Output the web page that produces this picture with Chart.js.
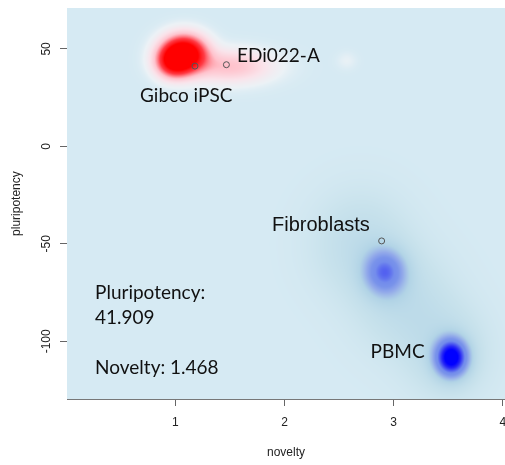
<!DOCTYPE html>
<html>
<head>
<meta charset="utf-8">
<script src="https://cdn.jsdelivr.net/npm/chart.js@4"></script>
<style>
  html, body { margin: 0; padding: 0; background: #fff; overflow: hidden; }
  #wrap { width: 540px; height: 465px; }
</style>
</head>
<body>
<div id="wrap"><canvas id="chart" width="540" height="465"></canvas></div>
<script>

// samples placed on the map
const sampleNames = ["Gibco iPSC", "EDi022-A", "Fibroblasts"];
const sampleNovelty = [1.18, 1.468, 2.89];
const samplePluripotency = [41.2, 41.909, -48.5];

// reference density, as a few gaussian components (data units)
const densityGroup = ["red", "red", "red", "red", "blue", "blue", "blue", "blue", "blue"];
const densityNovelty = [1.08, 0.98, 1.5, 2.57, 2.92, 2.7, 3.1, 3.53, 3.5];
const densityPluripotency = [47.5, 43, 41, 44, -64.5, -50, -80, -108.3, -106];
const densitySpreadX = [0.13, 0.1, 0.25, 0.06, 0.13, 0.3, 0.3, 0.1, 0.25];
const densitySpreadY = [6, 5, 5.5, 3, 8, 18, 18, 6.5, 16];
const densityWeight = [1, 0.5, 0.22, 0.025, 0.55, 0.14, 0.14, 1, 0.15];

const xTicks = [1, 2, 3, 4];
const yTicks = [-100, -50, 0, 50];

// annotations (text baseline anchored at data coords)
const noteTexts = ["EDi022-A", "Gibco iPSC", "Fibroblasts", "PBMC", "Pluripotency:", "41.909", "Novelty: 1.468"];
const noteNovelty = [1.565, 0.677, 1.886, 2.789, 0.265, 0.265, 0.265];
const notePluripotency = [43.4, 23.0, -43.2, -108.7, -78.1, -91.3, -116.8];


const bg = [214, 234, 243];
const redStops = [
  [0, bg], [0.03, [236, 242, 246]], [0.1, [250, 228, 235]], [0.22, [255, 195, 205]],
  [0.45, [255, 60, 70]], [0.7, [255, 0, 0]], [10, [255, 0, 0]]
];
const blueStops = [
  [0, bg], [0.08, [200, 226, 236]], [0.25, [178, 212, 230]], [0.4, [145, 168, 234]],
  [0.5, [122, 148, 234]], [0.6, [115, 140, 236]], [0.85, [40, 40, 245]], [1, [0, 0, 255]], [10, [0, 0, 255]]
];

function ramp(stops, t) {
  for (let i = 1; i < stops.length; i++) {
    if (t <= stops[i][0]) {
      const [t0, c0] = stops[i - 1];
      const [t1, c1] = stops[i];
      const f = (t - t0) / (t1 - t0);
      return [0, 1, 2].map(k => c0[k] + (c1[k] - c0[k]) * f);
    }
  }
  return stops[stops.length - 1][1];
}

const densityPlugin = {
  id: "density",
  beforeDatasetsDraw(chart) {
    const { ctx, chartArea: a, scales: { x, y } } = chart;
    const w = Math.round(a.right - a.left);
    const h = Math.round(a.bottom - a.top);
    const off = document.createElement("canvas");
    off.width = w;
    off.height = h;
    const octx = off.getContext("2d");
    const img = octx.createImageData(w, h);

    for (let j = 0; j < h; j++) {
      const vy = y.getValueForPixel(a.top + j + 0.5);
      for (let i = 0; i < w; i++) {
        const vx = x.getValueForPixel(a.left + i + 0.5);
        let r = 0, b = 0;
        for (let k = 0; k < densityWeight.length; k++) {
          const dx = (vx - densityNovelty[k]) / densitySpreadX[k];
          const dy = (vy - densityPluripotency[k]) / densitySpreadY[k];
          const d = densityWeight[k] * Math.exp(-0.5 * (dx * dx + dy * dy));
          if (densityGroup[k] === "red") r += d; else b += d;
        }
        const c = r > b ? ramp(redStops, r) : ramp(blueStops, b);
        const p = (j * w + i) * 4;
        img.data[p] = c[0];
        img.data[p + 1] = c[1];
        img.data[p + 2] = c[2];
        img.data[p + 3] = 255;
      }
    }
    octx.putImageData(img, 0, 0);
    ctx.drawImage(off, a.left, a.top);
  }
};

const notePlugin = {
  id: "notes",
  afterDatasetsDraw(chart) {
    const { ctx, scales: { x, y } } = chart;
    ctx.save();
    ctx.fillStyle = "#111";
    ctx.textBaseline = "alphabetic";
    ctx.textAlign = "left";
    noteTexts.forEach((t, i) => {
      // the Fibroblasts label was set in a different face
      ctx.font = t === "Fibroblasts" ? "20px 'Liberation Sans'" : "19px Lato";
      ctx.fillText(t, x.getPixelForValue(noteNovelty[i]), y.getPixelForValue(notePluripotency[i]));
    });
    ctx.restore();
  }
};


const axisFont = { family: "'Liberation Sans', Arial", size: 12 };

new Chart(document.getElementById("chart").getContext("2d"), {
  type: "scatter",
  data: {
    datasets: [{
      label: "samples",
      data: sampleNovelty.map((v, i) => ({ x: v, y: samplePluripotency[i] })),
      pointRadius: 3,
      pointBackgroundColor: "rgba(0,0,0,0)",
      pointBorderColor: "#555",
      pointBorderWidth: 1
    }]
  },
  options: {
    responsive: false,
    animation: false,
    // right side runs past the 505px window, like the cropped original
    layout: { padding: { top: 5.8, left: 0, right: 35, bottom: 0 } },
    plugins: {
      legend: { display: false },
      tooltip: { enabled: false }
    },
    scales: {
      x: {
        type: "linear",
        min: 0.008,
        max: 4.02,
        afterBuildTicks: s => { s.ticks = xTicks.map(v => ({ value: v })); },
        afterFit: s => { s.height = 66; },
        grid: { drawOnChartArea: false, color: "#666", tickLength: 7 },
        border: { color: "#777" },
        ticks: { color: "#222", font: axisFont, padding: 9 },
        title: { display: true, text: "novelty", color: "#222", font: axisFont, padding: { top: 0, bottom: 5 } }
      },
      y: {
        type: "linear",
        min: -129.6,
        max: 70.9,
        afterBuildTicks: s => { s.ticks = yTicks.map(v => ({ value: v })); },
        afterFit: s => { s.width = 67; },
        grid: { drawOnChartArea: false, color: "#666", tickLength: 7 },
        border: { color: "#777" },
        ticks: { color: "#222", font: axisFont, minRotation: 90, maxRotation: 90, crossAlign: "center", padding: 1 },
        title: { display: true, text: "pluripotency", color: "#222", font: axisFont, padding: { top: 9, bottom: 0 } }
      }
    }
  },
  plugins: [densityPlugin, notePlugin]
});
</script>
</body>
</html>
